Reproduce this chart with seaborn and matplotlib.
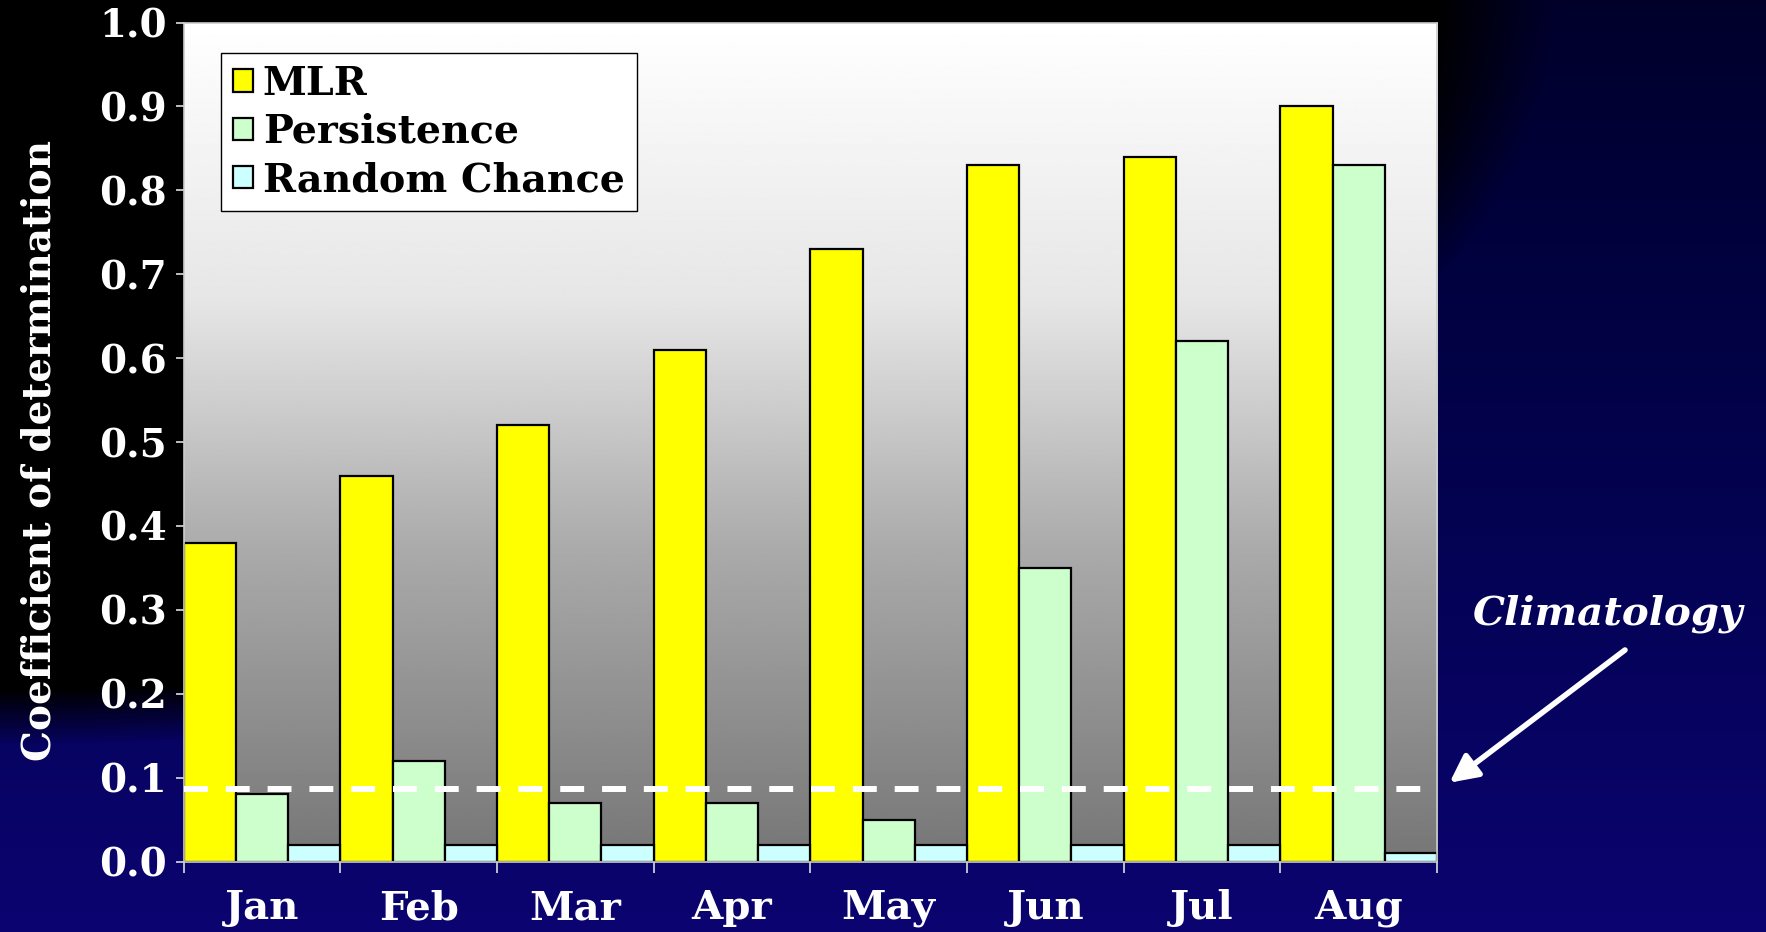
import numpy as np
import pandas as pd
import matplotlib
matplotlib.use("Agg")
import matplotlib.pyplot as plt
import seaborn as sns

months = ["Jan", "Feb", "Mar", "Apr", "May", "Jun", "Jul", "Aug"]
series_names = ["MLR", "Persistence", "Random Chance"]
mlr = [0.38, 0.46, 0.52, 0.61, 0.73, 0.83, 0.84, 0.90]
persistence = [0.08, 0.12, 0.07, 0.07, 0.05, 0.35, 0.62, 0.83]
random_chance = [0.02, 0.02, 0.02, 0.02, 0.02, 0.02, 0.02, 0.01]
climatology = 0.087
yticks = [0.0, 0.1, 0.2, 0.3, 0.4, 0.5, 0.6, 0.7, 0.8, 0.9, 1.0]
ytick_labels = ["0.0", "0.1", "0.2", "0.3", "0.4", "0.5", "0.6", "0.7", "0.8", "0.9", "1.0"]
colors = ["#ffff00", "#ccffcc", "#ccffff"]

df = pd.DataFrame({
    "month": months * 3,
    "series": [series_names[0]] * 8 + [series_names[1]] * 8 + [series_names[2]] * 8,
    "value": mlr + persistence + random_chance,
})

sns.set_theme(style="white")
plt.rcParams["font.family"] = ["DejaVu Serif"]

W, H = 1766, 932
fig = plt.figure(figsize=(W / 100, H / 100), dpi=100)

# background: navy with a black region in the upper-left
bg = fig.add_axes([0, 0, 1, 1], zorder=-10)
yy, xx = np.mgrid[0:H, 0:W].astype(float)
t = yy / H
r = 0.045 * t ** 2
g = 0.015 * t
b = 0.17 + 0.27 * t
e = np.sqrt((xx / 1480.0) ** 2 + (yy / 710.0) ** 2)
fade = np.clip((e - 0.97) / 0.08, 0, 1)
img = np.dstack([r * fade, g * fade, b * fade])
bg.imshow(img, aspect="auto", extent=(0, 1, 0, 1), origin="upper")
bg.set_axis_off()

left, right = 183.6 / W, 1437 / W
bottom, top = 1 - 861.6 / H, 1 - 22.5 / H
ax = fig.add_axes([left, bottom, right - left, top - bottom])

# plot-area gradient
vals = np.linspace(0, 1, 400)
bright = np.interp(vals, [0, 0.37, 0.67, 1.0], [118, 170, 230, 255]) / 255.0
grad = np.repeat(bright[:, None], 2, axis=1)
ax.imshow(grad, cmap="gray", vmin=0, vmax=1, aspect="auto",
          extent=(-0.5, 7.5, 0, 1), origin="lower", zorder=0)

sns.barplot(data=df, x="month", y="value", hue="series", palette=colors,
            saturation=1, width=1.0, edgecolor="black", linewidth=1.6,
            errorbar=None, ax=ax, zorder=2)

ax.axhline(climatology, xmin=0, xmax=0.995, color="white", lw=4.3,
           linestyle=(0, (4, 3)), zorder=5)

ax.set_xlim(-0.5, 7.5)
ax.set_ylim(0, 1)
ax.set_yticks(yticks)
ax.set_yticklabels(ytick_labels)
ax.set_xticks(range(len(months)))
ax.set_xticklabels(months)
ax.set_xticks(np.arange(-0.5, 8.0, 1.0), minor=True)
ax.tick_params(axis="x", which="major", length=0, pad=20, labelsize=29,
               labelcolor="white")
ax.tick_params(axis="x", which="minor", length=8, width=1.2, color="#dddddd",
               direction="out", bottom=True)
ax.tick_params(axis="y", which="major", length=6, width=1.2, color="#dddddd",
               direction="out", left=True, pad=6, labelsize=28,
               labelcolor="white")
for lab in ax.get_xticklabels() + ax.get_yticklabels():
    lab.set_fontweight("bold")
ax.set_xlabel("")
ax.set_ylabel("Coefficient of determination", color="white", fontsize=28,
              fontweight="bold")
ax.yaxis.set_label_coords(-0.100, 0.49)
for s in ax.spines.values():
    s.set_color("#cccccc")
    s.set_linewidth(1.2)

leg = ax.legend(loc="upper left", bbox_to_anchor=(0.030, 0.964),
                borderaxespad=0, frameon=True, fancybox=False,
                edgecolor="black", facecolor="white", framealpha=1,
                prop={"family": "DejaVu Serif", "weight": "bold", "size": 28.5},
                handlelength=0.5, handleheight=0.5, handletextpad=0.25,
                labelspacing=0.26, borderpad=0.3)
leg.get_frame().set_linewidth(1.0)
for t_ in leg.get_texts():
    t_.set_color("black")

# climatology annotation
ax.annotate("", xy=(7.58, 0.094), xycoords="data",
            xytext=(1625, H - 650), textcoords="figure pixels",
            arrowprops=dict(arrowstyle="-|>", color="white", lw=4,
                            mutation_scale=42, shrinkA=0, shrinkB=0),
            annotation_clip=False)
fig.text(1608 / W, 1 - 614 / H, "Climatology", color="white", fontsize=29,
         fontweight="bold", fontstyle="italic", ha="center", va="center",
         family="DejaVu Serif")

fig.savefig("out.png", dpi=100)
